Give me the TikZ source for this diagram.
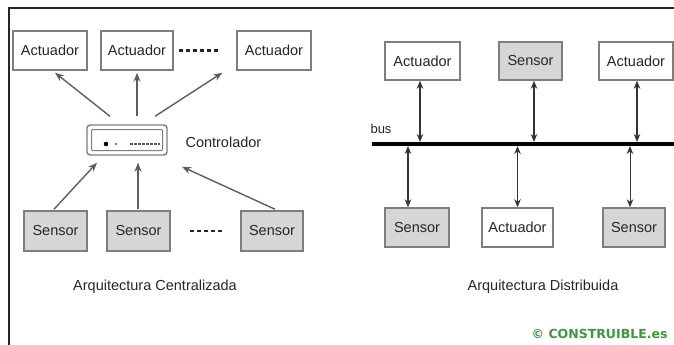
\documentclass[tikz,border=0pt]{standalone}
\usepackage{fontspec}
\setmainfont{Liberation Sans}
\newfontfamily\wmfont{DejaVu Sans}
\usetikzlibrary{arrows.meta,calc}
\definecolor{boxline}{HTML}{7E7E7E}
\definecolor{sensfill}{HTML}{D6D6D6}
\definecolor{txt}{HTML}{262626}
\definecolor{arrgray}{HTML}{5E5E5E}
\definecolor{wmgreen}{HTML}{3C9A3C}
\tikzset{
  boxbase/.style={draw=boxline,line width=1.5pt,inner sep=0pt,text=txt,font=\fontsize{14.5}{16}\selectfont},
  actbox/.style={boxbase,fill=white},
  sensbox/.style={boxbase,fill=sensfill},
  arr/.style={draw=arrgray,line width=1.4pt,-{Stealth[length=9pt,width=7pt]}},
  darr/.style={draw=black!80,line width=1.2pt,{Stealth[length=8pt,width=6.5pt]}-{Stealth[length=8pt,width=6.5pt]}},
  dotline/.style={draw=black!85,line width=2.6pt,dash pattern=on 4.5pt off 2.5pt},
  caption/.style={text=txt,font=\fontsize{14.5}{16}\selectfont}
}
\begin{document}
\begin{tikzpicture}[x=1pt,y=-1pt]
\useasboundingbox (0,0) rectangle (674,345);
\fill[white] (0,0) rectangle (674,345);
% frame
\draw[black!85,line width=1.6pt] (9,345) -- (9,8) -- (674,8);

% ---- Centralised ----
\node[actbox,minimum width=74pt,minimum height=39pt] (a1) at (50,50.5) {Actuador};
\node[actbox,minimum width=72pt,minimum height=39pt] (a2) at (137,50.5) {Actuador};
\node[actbox,minimum width=74pt,minimum height=39pt] (a3) at (274,50.5) {Actuador};
\draw[dotline] ($(a2.east)+(5,0)$) coordinate (d1a) -- ($(a3.west)+(-16,0)$) coordinate (d1b);

\node[draw=boxline,line width=1.4pt,rounded corners=3pt,minimum width=80pt,minimum height=30pt,inner sep=0pt] (ctrl) at (127,140) {};
\node[draw=boxline,line width=1pt,rounded corners=1pt,minimum width=71pt,minimum height=21pt,inner sep=0pt] (ctrlin) at (127,140) {};
\fill[black] ($(ctrl.center)+(-21,4)$) circle (2.3pt);
\fill[black!70] ($(ctrl.center)+(-11,4)$) circle (1.1pt);
\draw[black!65,line width=2pt,dash pattern=on 3pt off 1pt] ($(ctrl.center)+(3,4)$) coordinate (cd1) -- ($(ctrl.center)+(33,4)$) coordinate (cd2);
\node[caption,anchor=west] (ctrllab) at (182,142) {Controlador};

\node[sensbox,minimum width=63pt,minimum height=40pt] (s1) at (55.5,231) {Sensor};
\node[sensbox,minimum width=63pt,minimum height=40pt] (s2) at (138.5,231) {Sensor};
\node[sensbox,minimum width=62pt,minimum height=40pt] (s3) at (272,231) {Sensor};
\draw[dotline] ($(s2.east)+(19,0)$) coordinate (d2a) -- ($(s3.west)+(-17,0)$) coordinate (d2b);

\draw[arr] ($(ctrl.north)+(-17,-8)$) -- ($(a1.south)+(5,2)$);
\draw[arr] ($(ctrl.north)+(10,-8)$) -- ($(a2.south)+(0,2)$);
\draw[arr] ($(ctrl.north)+(28,-8)$) -- ($(a3.south west)+(-14,2)$);
\draw[arr] ($(s1.north)+(-1.5,-1)$) -- ($(ctrl.south)+(-30,7)$);
\draw[arr] ($(s2.north)+(-0.5,-1)$) -- ($(ctrl.south)+(11,7)$);
\draw[arr] ($(s3.north)+(3,-1)$) -- ($(ctrl.south)+(55,11)$);

\node[caption] (capc) at (155,287) {Arquitectura Centralizada};

% ---- Distributed ----
\node[actbox,minimum width=75pt,minimum height=38pt] (ra1) at (422.5,61) {Actuador};
\node[sensbox,minimum width=63pt,minimum height=38pt] (rs1) at (530.5,61) {Sensor};
\node[actbox,minimum width=74pt,minimum height=38pt] (ra2) at (636,61) {Actuador};

\coordinate (busL) at (372,144);
\coordinate (busR) at (674,144);
\draw[black,line width=3.8pt] (busL) -- (busR);
\node[text=txt,font=\fontsize{13}{15}\selectfont] (buslab) at (381,129) {bus};

\node[sensbox,minimum width=64pt,minimum height=39pt] (rb1) at (417,227.5) {Sensor};
\node[actbox,minimum width=71pt,minimum height=39pt] (rb2) at (517.5,227.5) {Actuador};
\node[sensbox,minimum width=62pt,minimum height=39pt] (rb3) at (634,227.5) {Sensor};

\draw[darr,shorten >=2pt] ([xshift=-2.5pt]ra1.south) -- ([xshift=-2.5pt]ra1.south |- busL);
\draw[darr,shorten >=2pt] ([xshift=3.5pt]rs1.south) -- ([xshift=3.5pt]rs1.south |- busL);
\draw[darr,shorten >=2pt] ([xshift=1pt]ra2.south) -- ([xshift=1pt]ra2.south |- busL);
\draw[darr,shorten >=2pt] ([xshift=-9pt]rb1.north) -- ([xshift=-9pt]rb1.north |- busL);
\draw[darr,shorten >=2pt] ([xshift=0pt]rb2.north) -- ([xshift=0pt]rb2.north |- busL);
\draw[darr,line width=0.8pt,shorten >=2pt] ([xshift=-4pt]rb3.north) -- ([xshift=-4pt]rb3.north |- busL);

\node[caption] (capd) at (543,287) {Arquitectura Distribuida};

\node[anchor=east,text=wmgreen,font=\wmfont\bfseries\fontsize{12.5}{14}\selectfont] (wm) at (671,334) {© CONSTRUIBLE.es};
\end{tikzpicture}
\end{document}
